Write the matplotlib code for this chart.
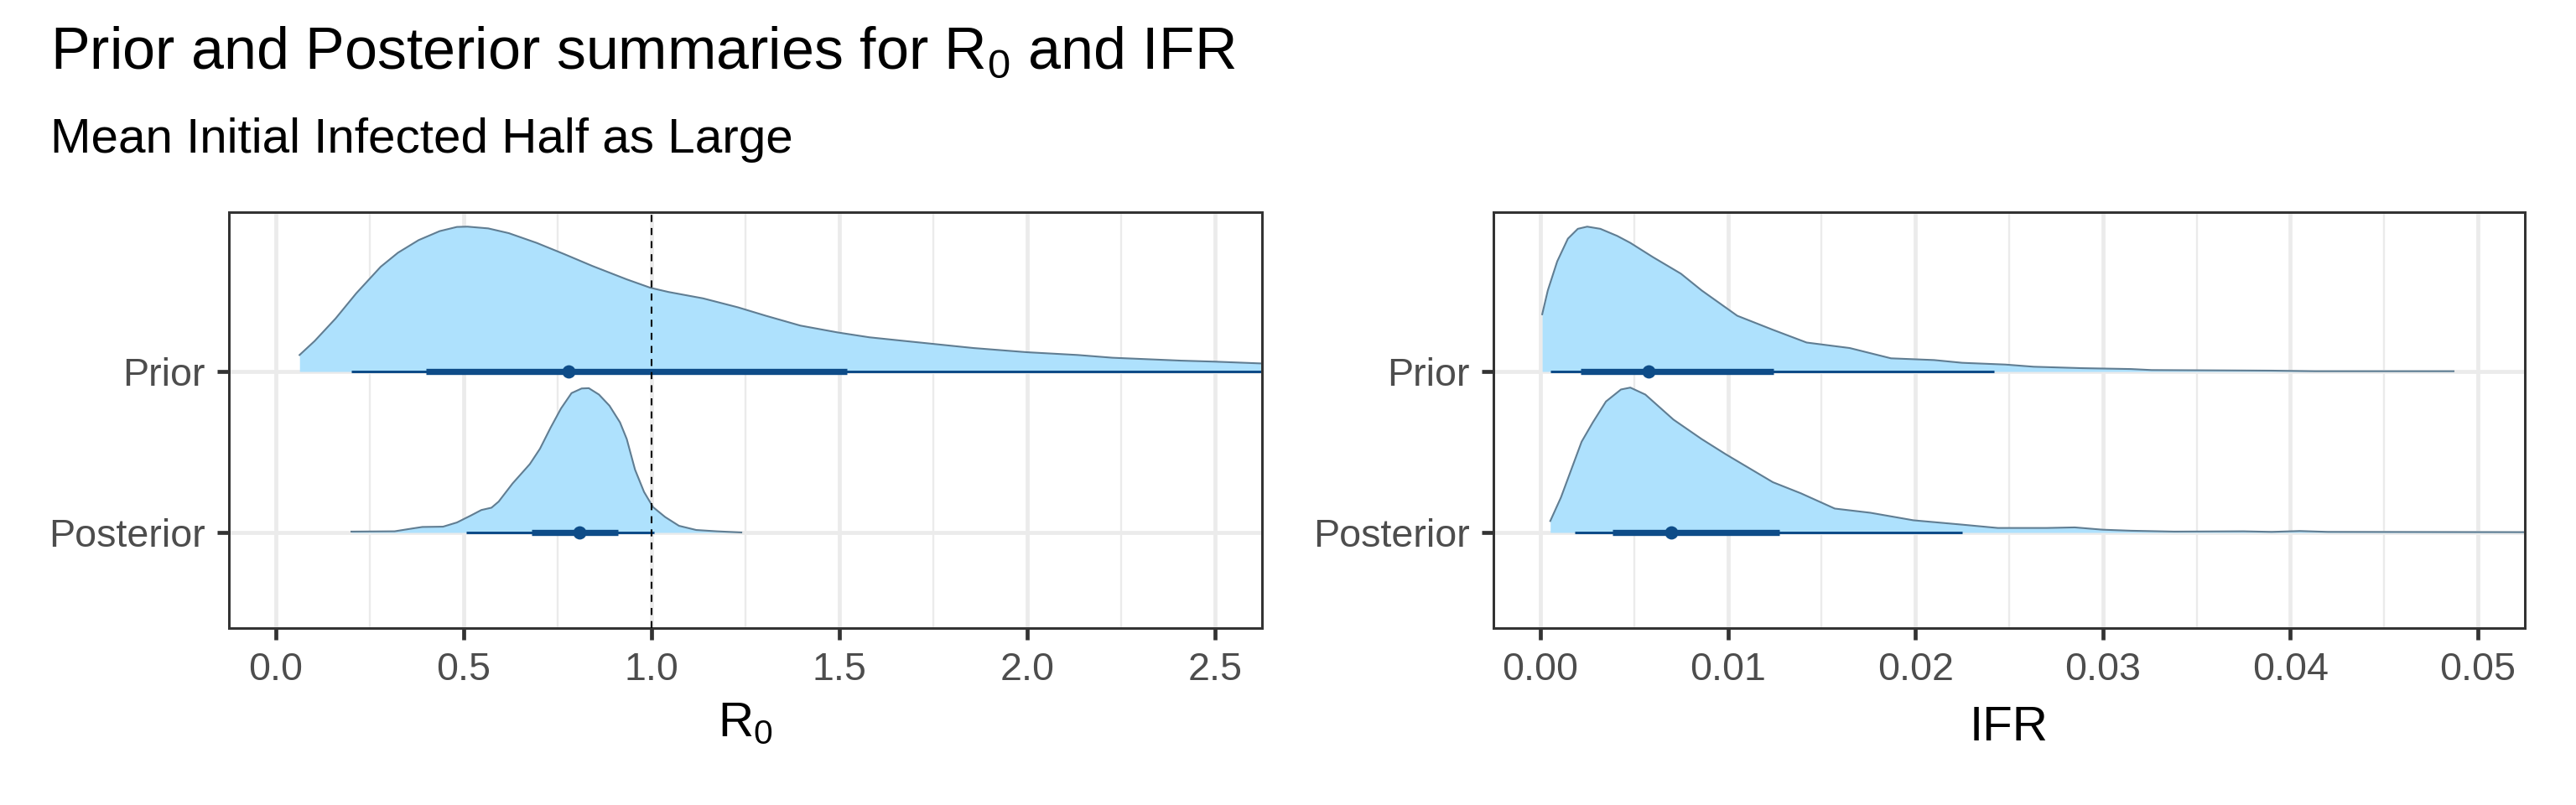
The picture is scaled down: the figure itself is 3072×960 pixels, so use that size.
import matplotlib
matplotlib.use('Agg')
import matplotlib.pyplot as plt

plt.rcParams['font.family'] = ['Liberation Sans', 'DejaVu Sans']
plt.rcParams['mathtext.fontset'] = 'custom'
plt.rcParams['mathtext.rm'] = 'Liberation Sans'

# categories (bottom to top)
groups = ['Posterior', 'Prior']

# R0 densities, relative heights (peak = 1)
r0_prior_x = [0.063, 0.103, 0.159, 0.214, 0.279, 0.325, 0.38, 0.436, 0.482, 0.51, 0.565, 0.62,
              0.694, 0.768, 0.842, 0.934, 0.997, 1.045, 1.137, 1.23, 1.304, 1.396, 1.497, 1.58,
              1.673, 1.857, 2.0, 2.134, 2.227, 2.41, 2.5, 2.62, 2.7]
r0_prior_d = [0.114, 0.21, 0.366, 0.54, 0.723, 0.82, 0.907, 0.969, 0.998, 1.0, 0.988, 0.955,
              0.888, 0.81, 0.729, 0.636, 0.578, 0.549, 0.505, 0.443, 0.385, 0.317, 0.269, 0.236,
              0.211, 0.162, 0.133, 0.114, 0.095, 0.075, 0.068, 0.056, 0.052]
r0_post_x = [0.201, 0.316, 0.362, 0.39, 0.445, 0.482, 0.519, 0.547, 0.574, 0.593, 0.63, 0.676,
             0.703, 0.731, 0.759, 0.787, 0.814, 0.833, 0.86, 0.888, 0.916, 0.934, 0.956, 0.98,
             1.004, 1.036, 1.073, 1.119, 1.174, 1.239]
r0_post_d = [0.006, 0.008, 0.027, 0.038, 0.04, 0.069, 0.117, 0.155, 0.171, 0.213, 0.338, 0.472,
             0.578, 0.722, 0.856, 0.962, 0.994, 0.996, 0.952, 0.875, 0.76, 0.645, 0.434, 0.28,
             0.175, 0.107, 0.046, 0.017, 0.008, 0.0]

# IFR densities
ifr_prior_x = [0.0001, 0.0004, 0.0009, 0.00147, 0.002, 0.0025, 0.0032, 0.0041, 0.0048, 0.006,
               0.0075, 0.0086, 0.0105, 0.0124, 0.0142, 0.0165, 0.0187, 0.021, 0.0225, 0.0248,
               0.0263, 0.0289, 0.0315, 0.0326, 0.039, 0.0413, 0.0487]
ifr_prior_d = [0.395, 0.56, 0.76, 0.917, 0.985, 1.0, 0.985, 0.936, 0.888, 0.79,
               0.675, 0.56, 0.385, 0.288, 0.20, 0.162, 0.091, 0.079, 0.06, 0.048,
               0.033, 0.023, 0.017, 0.01, 0.006, 0.002, 0.002]
ifr_post_x = [0.00053, 0.0011, 0.00165, 0.0022, 0.0028, 0.0035, 0.0043, 0.0048, 0.0056, 0.0071,
              0.0086, 0.0099, 0.0124, 0.0139, 0.0157, 0.0176, 0.0199, 0.0225, 0.0244, 0.027,
              0.0285, 0.030, 0.0315, 0.0338, 0.0375, 0.039, 0.0405, 0.042, 0.0524, 0.056]
ifr_post_d = [0.079, 0.242, 0.434, 0.626, 0.76, 0.904, 0.987, 1.0, 0.952, 0.779,
              0.645, 0.539, 0.347, 0.27, 0.165, 0.136, 0.084, 0.054, 0.031, 0.031,
              0.035, 0.019, 0.012, 0.006, 0.008, 0.004, 0.01, 0.004, 0.002, 0.002]

# interval summaries: median, 66% interval, 95% interval
r0_median = [0.808, 0.78]
r0_inner = [(0.68, 0.91), (0.40, 1.52)]
r0_outer = [(0.506, 1.007), (0.20, 3.5)]
ifr_median = [0.00699, 0.00579]
ifr_inner = [(0.00383, 0.01273), (0.00214, 0.01243)]
ifr_outer = [(0.00184, 0.0225), (0.00053, 0.0242)]

r0_ticks = [0.0, 0.5, 1.0, 1.5, 2.0, 2.5]
r0_ticklabels = ['0.0', '0.5', '1.0', '1.5', '2.0', '2.5']
ifr_ticks = [0.00, 0.01, 0.02, 0.03, 0.04, 0.05]
ifr_ticklabels = ['0.00', '0.01', '0.02', '0.03', '0.04', '0.05']

FILL = '#AEE1FD'
EDGE = '#607D92'
INT = '#0E4C88'
SCALE = 0.9

fig = plt.figure(figsize=(10.24, 3.2), dpi=300)
ax1 = fig.add_axes([273 / 3072, 211 / 960, 1232 / 3072, 496 / 960])
ax2 = fig.add_axes([1781 / 3072, 211 / 960, 1230 / 3072, 496 / 960])


def halfeye(ax, xs, ds, base, med, inner, outer):
    top = [base + SCALE * d for d in ds]
    ax.fill_between(xs, base, top, color=FILL, lw=0, zorder=2)
    ax.plot(xs, top, color=EDGE, lw=0.5, zorder=3)
    ax.plot(outer, [base, base], color=INT, lw=0.72, solid_capstyle='butt', zorder=4)
    ax.plot(inner, [base, base], color=INT, lw=1.76, solid_capstyle='butt', zorder=4)
    ax.plot([med], [base], 'o', color=INT, ms=3.8, mew=0, zorder=5)


def style(ax, ticks, labels, xlim, minor, xlabel, ylab_y):
    ax.set_xlim(*xlim)
    ax.set_ylim(0.406, 2.99)
    ax.set_xticks(ticks)
    ax.set_xticklabels(labels)
    ax.set_xticks(minor, minor=True)
    ax.set_yticks([1, 2])
    ax.set_yticklabels(groups)
    ax.grid(which='major', color='#EBEBEB', lw=1.13, zorder=0)
    ax.grid(which='minor', axis='x', color='#EBEBEB', lw=0.56, zorder=0)
    ax.set_axisbelow(True)
    for s in ax.spines.values():
        s.set_color('#333333')
        s.set_linewidth(0.72)
        s.set_zorder(6)
    ax.tick_params(which='major', length=3.4, width=1.13, color='#333333',
                   labelsize=11.2, labelcolor='#4D4D4D', pad=3.4)
    ax.tick_params(which='minor', length=0)
    ax.text(0.5, ylab_y, xlabel, transform=ax.transAxes, ha='center', va='baseline',
            fontsize=14, color='black')


halfeye(ax1, r0_prior_x, r0_prior_d, 2, r0_median[1], r0_inner[1], r0_outer[1])
halfeye(ax1, r0_post_x, r0_post_d, 1, r0_median[0], r0_inner[0], r0_outer[0])
ax1.axvline(1.0, color='black', lw=0.5, linestyle=(0, (4, 3.5)), zorder=7)
style(ax1, r0_ticks, r0_ticklabels, (-0.125, 2.625), [0.25, 0.75, 1.25, 1.75, 2.25],
      r'$\mathregular{R_0}$', -0.260)

halfeye(ax2, ifr_prior_x, ifr_prior_d, 2, ifr_median[1], ifr_inner[1], ifr_outer[1])
halfeye(ax2, ifr_post_x, ifr_post_d, 1, ifr_median[0], ifr_inner[0], ifr_outer[0])
style(ax2, ifr_ticks, ifr_ticklabels, (-0.0025, 0.0525), [0.005, 0.015, 0.025, 0.035, 0.045],
      'IFR', -0.270)

fig.text(60 / 3072, 1 - 82 / 960, r'Prior and Posterior summaries for $\mathregular{R_0}$ and IFR',
         fontsize=16.8, va='baseline', ha='left')
fig.text(60 / 3072, 1 - 182 / 960, 'Mean Initial Infected Half as Large',
         fontsize=14, va='baseline', ha='left')

fig.savefig('out.png', dpi=300)
